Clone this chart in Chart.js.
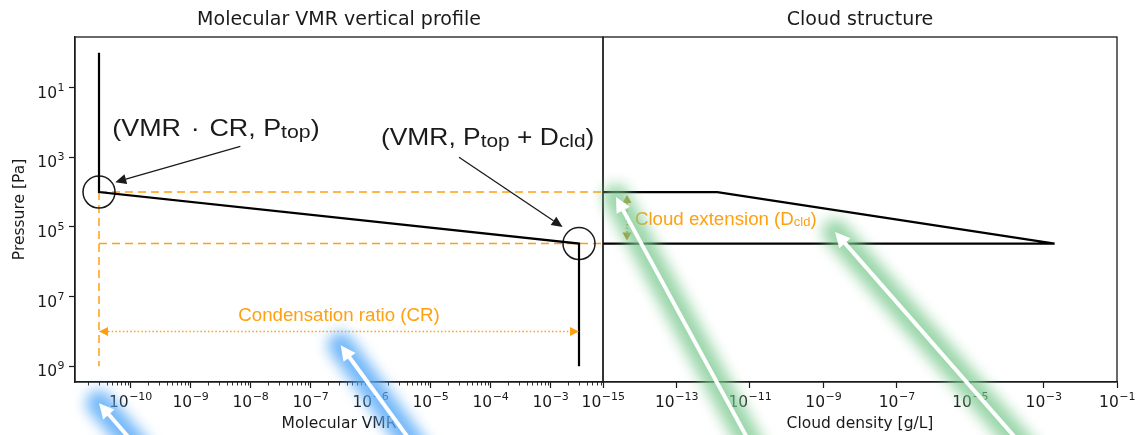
<!DOCTYPE html>
<html>
<head>
<meta charset="utf-8">
<script src="https://cdn.jsdelivr.net/npm/chart.js@4.4.1/dist/chart.umd.min.js"></script>
<style>
    body { margin: 0; background: #fff; width: 1136px; height: 435px; position: relative; overflow: hidden; }
    #vmr-wrap { position: absolute; left: 0; top: 0; }
    #cloud-wrap { position: absolute; left: 560px; top: 0; }
</style>
</head>
<body>
<div id="vmr-wrap"><canvas id="vmr_profile" width="604" height="435"></canvas></div>
<div id="cloud-wrap"><canvas id="cloud_structure" width="576" height="435"></canvas></div>
<script>
/*
*  two panel figure: molecular VMR profile (left) and cloud structure (right)
*/

// --- data ---
const vmrValues      = [3e-11, 3e-11, 3e-3, 3e-3];      // molecular VMR
const vmrPressures   = [1e0, 1e4, 3e5, 1e9];            // Pa
const cloudDensity   = [1e-15, 1.3e-12, 2e-3, 1e-15];   // g/L
const cloudPressures = [1e4, 1e4, 3e5, 3e5];            // Pa
const markerVMR      = [3e-11, 3e-3];                   // circled points
const markerP        = [1e4, 3e5];
const pTop = 1e4;
const pBottom = 3e5;
const pDeep = 1e9;
const vmrLow = 3e-11;
const vmrHigh = 3e-3;
const crArrowP = 1e8;
const cloudArrowX = 4.5e-15;

const pressureTicks = [1e1, 1e3, 1e5, 1e7, 1e9];
const vmrTicks      = [1e-10, 1e-9, 1e-8, 1e-7, 1e-6, 1e-5, 1e-4, 1e-3];
const cloudTicks    = [1e-15, 1e-13, 1e-11, 1e-9, 1e-7, 1e-5, 1e-3, 1e-1];

// annotation anchors, in data coordinates [x, y]
const noteTop      = { at: [5e-11, 139],   from: [6.8e-9, 485], to: [5.6e-11, 5.2e3] };
const noteBottom   = { at: [1.5e-6, 251],  from: [3.0e-5, 1e3], to: [1.6e-3, 1e5] };
const crLabelAt    = [3e-7, 3.2e7];
const cloudLabelAt = [7.4e-15, 5.5e4];
const blueArrows   = [ { from: [1.36e-10, 2.3e11], to: [3e-11, 1.14e10] },
                       { from: [5.8e-6, 2.3e11],   to: [3.2e-7, 2.5e8] } ];
const greenArrows  = [ { from: [1.22e-11, 2.3e11], to: [2.26e-15, 1.39e4] },
                       { from: [3.1e-4, 2.3e11],   to: [2.09e-9, 1.39e5] } ];

const INK = '#1a1a1a';
const ORANGE = '#ffa010';
const GOLD = '#b8860b';
const TICK_FONT = '"DejaVu Sans", sans-serif';

Chart.defaults.font.family = TICK_FONT;
Chart.defaults.color = INK;

function pts(xs, ys) { return xs.map((x, i) => ({x: x, y: ys[i]})); }

function logAxis(min, max, ticks, opts) {
    let axis = {
        type: 'logarithmic',
        min: min, max: max,
        afterBuildTicks: (s) => { s.ticks = ticks.map(v => ({value: v})); },
        grid: { drawOnChartArea: false, drawTicks: true, tickLength: 6, tickColor: INK, tickWidth: 1.2 },
        border: { display: true, color: INK, width: 1.3 },
        ticks: { display: false, autoSkip: false },
    };
    return Object.assign(axis, opts);
}

function toPx(chart, p) {
    return [chart.scales.x.getPixelForValue(p[0]), chart.scales.y.getPixelForValue(p[1])];
}

// "10" with a raised exponent, as matplotlib prints log ticks
function drawPowLabels(ctx, scale, area) {
    ctx.save();
    ctx.fillStyle = INK;
    ctx.textBaseline = 'alphabetic';
    ctx.textAlign = 'left';
    scale.ticks.forEach((t) => {
        let e = Math.round(Math.log10(t.value));
        let base = '10', exp = String(e).replace('-', '\u2212');
        ctx.font = '15.5px ' + TICK_FONT;
        let wb = ctx.measureText(base).width;
        ctx.font = '11px ' + TICK_FONT;
        let we = ctx.measureText(exp).width;
        let p = scale.getPixelForValue(t.value);
        let x0, y0;
        if (scale.isHorizontal()) {
            x0 = p - (wb + we) / 2;
            y0 = area.bottom + 25;
        } else {
            x0 = area.left - 11 - (wb + we);
            y0 = p + 10;
        }
        ctx.font = '15.5px ' + TICK_FONT;
        ctx.fillText(base, x0, y0);
        ctx.font = '11px ' + TICK_FONT;
        ctx.fillText(exp, x0 + wb + 0.5, y0 - 7);
    });
    ctx.restore();
}

function arrowHead(ctx, from, tip, len, half, color) {
    let ang = Math.atan2(tip[1] - from[1], tip[0] - from[0]);
    ctx.save();
    ctx.translate(tip[0], tip[1]);
    ctx.rotate(ang);
    ctx.beginPath();
    ctx.moveTo(0, 0); ctx.lineTo(-len, -half); ctx.lineTo(-len, half); ctx.closePath();
    ctx.fillStyle = color;
    ctx.fill();
    ctx.restore();
}

function arrow(ctx, from, tip, color, width, dash, len, half, both) {
    let ang = Math.atan2(tip[1] - from[1], tip[0] - from[0]);
    let a = both ? [from[0] + Math.cos(ang) * len, from[1] + Math.sin(ang) * len] : from;
    let b = [tip[0] - Math.cos(ang) * len, tip[1] - Math.sin(ang) * len];
    ctx.save();
    ctx.strokeStyle = color; ctx.lineWidth = width; ctx.setLineDash(dash);
    ctx.beginPath(); ctx.moveTo(a[0], a[1]); ctx.lineTo(b[0], b[1]); ctx.stroke();
    ctx.restore();
    arrowHead(ctx, from, tip, len, half, color);
    if (both) arrowHead(ctx, tip, from, len, half, color);
}

// text with subscripts: parts = [[text, isSub], ...]; y is the vertical middle of capitals
function richText(ctx, parts, x, y, size, color, align, stretch, subScale) {
    ctx.save();
    ctx.fillStyle = color;
    ctx.textBaseline = 'alphabetic';
    ctx.textAlign = 'left';
    let fonts = parts.map(p => (p[1] ? Math.round(size * subScale) : size) + 'px "Liberation Sans", Arial, sans-serif');
    let widths = parts.map((p, i) => { ctx.font = fonts[i]; return ctx.measureText(p[0]).width; });
    let total = widths.reduce((s, w) => s + w, 0);
    ctx.translate(x, y + size * 0.36);
    ctx.scale(stretch, 1);
    let cx = (align === 'center') ? -total / 2 : 0;
    parts.forEach((p, i) => {
        ctx.font = fonts[i];
        ctx.fillText(p[0], cx, p[1] ? size * 0.1 : 0);
        cx += widths[i];
    });
    ctx.restore();
}

function glowArrow(ctx, from, tip, glow) {
    let ang = Math.atan2(tip[1] - from[1], tip[0] - from[0]);
    let hl = 15, hw = 7.5;
    ctx.save();
    ctx.filter = 'blur(7px)';
    ctx.strokeStyle = glow; ctx.lineWidth = 26; ctx.lineCap = 'round';
    ctx.beginPath(); ctx.moveTo(from[0], from[1]); ctx.lineTo(tip[0], tip[1]); ctx.stroke();
    ctx.filter = 'none';
    ctx.strokeStyle = '#fff'; ctx.lineWidth = 4; ctx.lineCap = 'butt';
    ctx.beginPath(); ctx.moveTo(from[0], from[1]);
    ctx.lineTo(tip[0] - Math.cos(ang) * hl * 0.8, tip[1] - Math.sin(ang) * hl * 0.8); ctx.stroke();
    ctx.restore();
    arrowHead(ctx, from, tip, hl, hw, '#fff');
}

function drawFrame(chart) {
    let {ctx, chartArea: a} = chart;
    ctx.save();
    ctx.strokeStyle = INK; ctx.lineWidth = 1.3;
    ctx.strokeRect(a.left, a.top, a.right - a.left, a.bottom - a.top);
    ctx.restore();
}

const vmrDecor = {
    id: 'vmrDecor',
    afterDatasetsDraw(chart) {
        let {ctx, chartArea: a, scales: {x, y}} = chart;
        drawFrame(chart);
        drawPowLabels(ctx, x, a);
        drawPowLabels(ctx, y, a);
        // minor ticks on the VMR axis
        ctx.save();
        ctx.strokeStyle = INK; ctx.lineWidth = 0.9;
        for (let n = -12; n <= -2; n++) {
            for (let m = 2; m <= 9; m++) {
                let v = m * Math.pow(10, n);
                if (v < x.min || v > x.max) continue;
                let px = Math.round(x.getPixelForValue(v)) + 0.5;
                ctx.beginPath(); ctx.moveTo(px, a.bottom); ctx.lineTo(px, a.bottom + 3.5); ctx.stroke();
            }
        }
        ctx.restore();
        // condensation ratio double arrow
        arrow(ctx, toPx(chart, [vmrLow, crArrowP]), toPx(chart, [vmrHigh, crArrowP]), ORANGE, 1.5, [1.5, 2.2], 9, 4.5, true);
        let c = toPx(chart, crLabelAt);
        richText(ctx, [['Condensation ratio (CR)', false]], c[0], c[1], 18.7, ORANGE, 'center', 1, 0.72);
        // callouts
        arrow(ctx, toPx(chart, noteTop.from), toPx(chart, noteTop.to), INK, 1.3, [], 11, 5, false);
        arrow(ctx, toPx(chart, noteBottom.from), toPx(chart, noteBottom.to), INK, 1.3, [], 11, 5, false);
        let t = toPx(chart, noteTop.at);
        richText(ctx, [['(VMR \u200a·\u200a CR, P', false], ['top', true], [')', false]], t[0], t[1], 24, INK, 'left', 1.12, 0.8);
        let b = toPx(chart, noteBottom.at);
        richText(ctx, [['(VMR, P', false], ['top', true], [' + D', false], ['cld', true], [')', false]], b[0], b[1], 24, INK, 'left', 1.1, 0.8);
    },
    afterDraw(chart) {
        blueArrows.forEach(ar => glowArrow(chart.ctx, toPx(chart, ar.from), toPx(chart, ar.to), 'rgba(90,172,248,0.85)'));
    }
};

const cloudDecor = {
    id: 'cloudDecor',
    afterDatasetsDraw(chart) {
        let {ctx, chartArea: a, scales: {x}} = chart;
        drawFrame(chart);
        drawPowLabels(ctx, x, a);
        let top = toPx(chart, [cloudArrowX, pTop]);
        let bot = toPx(chart, [cloudArrowX, pBottom]);
        top[1] += 3; bot[1] -= 3;
        arrow(ctx, top, bot, GOLD, 1.4, [1.5, 2], 8, 4.5, true);
        let c = toPx(chart, cloudLabelAt);
        richText(ctx, [['Cloud extension (D', false], ['cld', true], [')', false]], c[0], c[1], 18.7, ORANGE, 'left', 1, 0.72);
    },
    afterDraw(chart) {
        greenArrows.forEach(ar => glowArrow(chart.ctx, toPx(chart, ar.from), toPx(chart, ar.to), 'rgba(120,200,140,0.75)'));
    }
};

const yMin = Math.pow(10, -0.45), yMax = Math.pow(10, 9.45);

function baseOptions(xAxis, yAxis, titleText, padding) {
    return {
        responsive: false,
        animation: false,
        layout: { padding: padding, autoPadding: false },
        scales: { x: xAxis, y: yAxis },
        plugins: {
            legend: { display: false },
            tooltip: { enabled: false },
            title: { display: true, text: titleText, fullSize: false, color: INK,
                     font: { size: 19, weight: 'normal' }, padding: { top: 8.6, bottom: 5.6 } },
        },
    };
}

function lineSet(data, color, width, dash) {
    return { data: data, showLine: true, borderColor: color, borderWidth: width, borderDash: dash || [],
             pointRadius: 0, fill: false, tension: 0 };
}

function fixX(s) { s.height = 53; s.paddingLeft = 0; s.paddingRight = 0; }

const vmrX = logAxis(Math.pow(10, -10.923), Math.pow(10, -2.123), vmrTicks, {
    title: { display: true, text: 'Molecular VMR', font: {size: 15.5}, color: INK, padding: {top: 0, bottom: 1.7} },
    afterFit: fixX,
});
const vmrY = logAxis(yMin, yMax, pressureTicks, {
    reverse: true,
    title: { display: true, text: 'Pressure [Pa]', font: {size: 15.5}, color: INK, padding: {top: 10.7, bottom: 0} },
    afterFit: (s) => { s.width = 75; s.paddingTop = 0; s.paddingBottom = 0; },
});

const vmrChart = new Chart(document.getElementById('vmr_profile'), {
    type: 'scatter',
    data: {
        datasets: [
            lineSet(pts(vmrValues, vmrPressures), '#000', 2.2),
            { data: pts(markerVMR, markerP), showLine: false, pointStyle: 'circle', pointRadius: 16,
              pointBorderColor: INK, pointBorderWidth: 1.5, pointBackgroundColor: 'rgba(0,0,0,0)', clip: false },
            lineSet(pts([vmrLow, 1e-1], [pTop, pTop]), ORANGE, 1.5, [8, 5]),
            lineSet(pts([vmrLow, 1e-1], [pBottom, pBottom]), ORANGE, 1.5, [8, 5]),
            lineSet(pts([vmrLow, vmrLow], [pTop, pDeep]), ORANGE, 1.5, [8, 5]),
        ],
    },
    options: baseOptions(vmrX, vmrY, 'Molecular VMR vertical profile', {top: 0, left: 0, right: 1, bottom: 0}),
    plugins: [vmrDecor],
});

const cloudX = logAxis(1e-15, 1e-1, cloudTicks, {
    title: { display: true, text: 'Cloud density [g/L]', font: {size: 15.5}, color: INK, padding: {top: 0, bottom: 1.7} },
    afterFit: fixX,
});
const cloudY = { type: 'logarithmic', min: yMin, max: yMax, reverse: true, display: false };

const cloudChart = new Chart(document.getElementById('cloud_structure'), {
    type: 'scatter',
    data: {
        datasets: [ lineSet(pts(cloudDensity, cloudPressures), '#000', 2.2) ],
    },
    options: baseOptions(cloudX, cloudY, 'Cloud structure', {top: 0, left: 43, right: 19, bottom: 0}),
    plugins: [cloudDecor],
});
</script>
</body>
</html>
